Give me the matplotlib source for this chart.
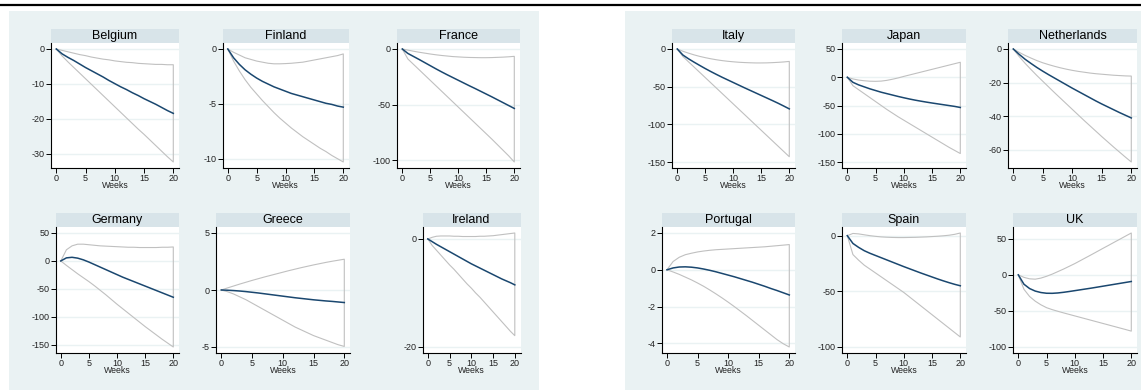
import matplotlib
matplotlib.use('Agg')
import matplotlib.pyplot as plt
from matplotlib.patches import Rectangle

#---DATA---
weeks = [0, 1, 2, 3, 4, 5, 6, 7, 8, 9, 10, 11, 12, 13, 14, 15, 16, 17, 18, 19, 20]

belgium_irf = [0, -1.4, -2.4, -3.3, -4.3, -5.3, -6.2, -7.1, -8.0, -9.0, -9.9, -10.8, -11.6, -12.5, -13.3, -14.2, -15.0, -15.8, -16.7, -17.6, -18.4]
belgium_upper = [0, -0.4, -0.8, -1.2, -1.6, -1.9, -2.3, -2.6, -2.9, -3.1, -3.4, -3.6, -3.8, -3.9, -4.1, -4.2, -4.3, -4.4, -4.4, -4.5, -4.5]
belgium_lower = [0, -2.0, -3.7, -5.3, -6.9, -8.5, -10.1, -11.7, -13.3, -14.9, -16.5, -18.1, -19.7, -21.3, -22.9, -24.4, -26.0, -27.6, -29.2, -30.8, -32.3]

finland_irf = [0, -0.8, -1.4, -1.9, -2.3, -2.65, -2.95, -3.2, -3.45, -3.65, -3.85, -4.05, -4.2, -4.35, -4.5, -4.65, -4.8, -4.95, -5.05, -5.2, -5.3]
finland_upper = [0, -0.3, -0.55, -0.8, -0.95, -1.1, -1.2, -1.3, -1.35, -1.35, -1.33, -1.3, -1.25, -1.2, -1.1, -1.0, -0.9, -0.8, -0.7, -0.6, -0.45]
finland_lower = [0, -1.1, -2.0, -2.8, -3.5, -4.1, -4.7, -5.25, -5.8, -6.3, -6.75, -7.2, -7.6, -8.0, -8.35, -8.7, -9.05, -9.35, -9.7, -10.0, -10.3]

france_irf = [0, -4, -6.7, -9.4, -12.2, -15, -17.8, -20.5, -23.1, -25.6, -28.1, -30.6, -33.1, -35.5, -38, -40.5, -43, -45.6, -48.2, -50.8, -53.4]
france_upper = [0, -1.0, -2.0, -2.9, -3.7, -4.5, -5.2, -5.8, -6.3, -6.8, -7.1, -7.4, -7.6, -7.7, -7.8, -7.8, -7.7, -7.5, -7.3, -7.0, -6.6]
france_lower = [0, -9, -13.8, -18.6, -23.4, -28.2, -33, -37.8, -42.6, -47.4, -52.2, -57, -61.8, -66.6, -71.4, -76.2, -81, -86, -91, -96, -101.5]

germany_irf = [0, 5.5, 6.5, 5, 2, -2, -6.5, -11, -15.5, -20, -24.5, -29, -33, -37, -41, -45, -49, -53, -57, -61, -65]
germany_upper = [0, 20, 27, 30, 30, 29, 28, 27, 26.5, 26, 25.5, 25, 24.5, 24.5, 24, 24, 24, 24, 24.5, 24.5, 25]
germany_lower = [0, -8, -15.5, -23, -30, -37, -44.5, -52.5, -60.5, -69, -77.5, -85.5, -93.5, -101.5, -109.5, -117.5, -125, -132.5, -140, -147, -154]

greece_irf = [0, -0.02, -0.05, -0.09, -0.14, -0.2, -0.26, -0.33, -0.4, -0.47, -0.54, -0.61, -0.68, -0.74, -0.8, -0.86, -0.91, -0.96, -1.0, -1.05, -1.1]
greece_upper = [0, 0.18, 0.35, 0.52, 0.68, 0.84, 0.99, 1.14, 1.28, 1.42, 1.56, 1.7, 1.83, 1.96, 2.08, 2.2, 2.31, 2.42, 2.52, 2.61, 2.7]
greece_lower = [0, -0.15, -0.35, -0.6, -0.85, -1.15, -1.45, -1.75, -2.05, -2.35, -2.65, -2.95, -3.25, -3.5, -3.75, -4.0, -4.2, -4.4, -4.6, -4.8, -4.95]

ireland_irf = [0, -0.5, -1.0, -1.45, -1.9, -2.35, -2.8, -3.25, -3.7, -4.15, -4.6, -5.0, -5.4, -5.8, -6.2, -6.6, -7.0, -7.4, -7.75, -8.1, -8.5]
ireland_upper = [0, 0.3, 0.5, 0.55, 0.55, 0.55, 0.5, 0.5, 0.45, 0.45, 0.45, 0.45, 0.5, 0.5, 0.55, 0.6, 0.7, 0.8, 0.9, 1.0, 1.1]
ireland_lower = [0, -1.2, -2.1, -3.0, -3.9, -4.8, -5.6, -6.5, -7.4, -8.3, -9.1, -10.0, -10.8, -11.7, -12.6, -13.5, -14.4, -15.3, -16.2, -17.1, -17.9]

italy_irf = [0, -8, -13, -17.5, -21.8, -26, -30, -33.8, -37.5, -41, -44.5, -48, -51.5, -54.9, -58.3, -61.7, -65.1, -68.5, -72, -75.7, -79.5]
italy_upper = [0, -3, -5.5, -7.8, -9.8, -11.5, -13, -14.3, -15.4, -16.3, -17, -17.6, -18, -18.3, -18.5, -18.5, -18.4, -18.1, -17.7, -17.2, -16.5]
italy_lower = [0, -10, -17, -24, -31, -38, -45, -52, -59, -66, -73, -80, -87, -94, -101, -108, -115, -122, -129, -136, -143]

japan_irf = [0, -9, -13.5, -17, -20.5, -23.5, -26.5, -29, -31.5, -34, -36.3, -38.5, -40.5, -42.3, -44, -45.6, -47.1, -48.6, -50.1, -51.6, -53.5]
japan_upper = [0, -3, -5, -6.2, -7, -7.2, -6.8, -5.5, -3.5, -1.2, 1.5, 4, 6.5, 9, 11.5, 14, 16.5, 19, 21.5, 24, 26.5]
japan_lower = [0, -15, -22, -29, -36, -43, -50, -57, -63.5, -70, -76, -82, -88, -94, -100, -106, -112, -118, -124, -129.5, -135]

netherlands_irf = [0, -3.2, -6.1, -8.6, -11, -13.2, -15.3, -17.3, -19.3, -21.3, -23.3, -25.2, -27.1, -29, -30.9, -32.7, -34.4, -36.1, -37.8, -39.4, -41]
netherlands_upper = [0, -2, -3.8, -5.4, -6.9, -8.2, -9.3, -10.3, -11.2, -12, -12.7, -13.3, -13.8, -14.3, -14.7, -15, -15.3, -15.6, -15.8, -16, -16.1]
netherlands_lower = [0, -4.5, -8.5, -12.2, -15.8, -19.2, -22.6, -26, -29.3, -32.6, -35.9, -39.2, -42.5, -45.7, -48.9, -52.1, -55.2, -58.3, -61.3, -64.3, -67.2]

portugal_irf = [0, 0.1, 0.15, 0.16, 0.14, 0.1, 0.04, -0.03, -0.11, -0.2, -0.29, -0.38, -0.48, -0.58, -0.68, -0.79, -0.9, -1.02, -1.13, -1.25, -1.37]
portugal_upper = [0, 0.45, 0.68, 0.82, 0.9, 0.97, 1.02, 1.06, 1.09, 1.11, 1.13, 1.15, 1.17, 1.19, 1.21, 1.23, 1.25, 1.28, 1.31, 1.34, 1.37]
portugal_lower = [0, -0.12, -0.25, -0.4, -0.55, -0.72, -0.9, -1.1, -1.31, -1.53, -1.76, -2.0, -2.25, -2.5, -2.76, -3.02, -3.28, -3.54, -3.8, -4.02, -4.2]

spain_irf = [0, -7, -10.5, -13.5, -15.8, -17.8, -19.8, -21.8, -23.8, -25.8, -27.8, -29.7, -31.6, -33.5, -35.3, -37.1, -38.9, -40.6, -42.2, -43.7, -45]
spain_upper = [0, 2, 1.6, 0.8, 0, -0.6, -1.1, -1.4, -1.6, -1.7, -1.7, -1.6, -1.5, -1.3, -1.1, -0.8, -0.5, -0.1, 0.4, 1.2, 2.4]
spain_lower = [0, -17, -22, -26.5, -30, -33.5, -37, -40.5, -44, -47.5, -51, -55, -59, -63, -67, -71, -75, -79, -83, -87, -91]

uk_irf = [0, -13, -19, -22.5, -24.5, -25.5, -25.6, -25.1, -24.2, -23.1, -21.9, -20.7, -19.5, -18.3, -17, -15.7, -14.4, -13.1, -11.8, -10.5, -9.2]
uk_upper = [0, -3.5, -5.5, -6, -4.5, -2, 1, 4.5, 8, 11.8, 15.6, 19.8, 24, 28.2, 32.5, 36.8, 41, 45.3, 49.5, 53.8, 58]
uk_lower = [0, -20, -30, -36.5, -41.5, -45.5, -48.2, -50.5, -52.7, -54.8, -56.9, -59, -61.1, -63.2, -65.3, -67.4, -69.5, -71.6, -73.7, -75.8, -78]

x_ticks = [0, 5, 10, 15, 20]
belgium_ticks = [0, -10, -20, -30]
finland_ticks = [0, -5, -10]
france_ticks = [0, -50, -100]
germany_ticks = [50, 0, -50, -100, -150]
greece_ticks = [5, 0, -5]
ireland_ticks = [0, -20]
italy_ticks = [0, -50, -100, -150]
japan_ticks = [50, 0, -50, -100, -150]
netherlands_ticks = [0, -20, -40, -60]
portugal_ticks = [2, 0, -2, -4]
spain_ticks = [0, -50, -100]
uk_ticks = [50, 0, -50, -100]

#---LAYOUT (pixels of 1141x390 image)---
W, H = 1141, 390
# name, irf, upper, lower, ticks, axis left px, axis right px, plot top px, x-axis px
panels = [
    ('Belgium', belgium_irf, belgium_upper, belgium_lower, belgium_ticks, 51, 179, 43, 168),
    ('Finland', finland_irf, finland_upper, finland_lower, finland_ticks, 222.5, 349, 43, 168),
    ('France', france_irf, france_upper, france_lower, france_ticks, 397, 520, 43, 168),
    ('Germany', germany_irf, germany_upper, germany_lower, germany_ticks, 55.5, 179, 227, 353),
    ('Greece', greece_irf, greece_upper, greece_lower, greece_ticks, 216, 350, 227, 353),
    ('Ireland', ireland_irf, ireland_upper, ireland_lower, ireland_ticks, 422.5, 520.5, 227, 353),
    ('Italy', italy_irf, italy_upper, italy_lower, italy_ticks, 672, 795, 43, 168),
    ('Japan', japan_irf, japan_upper, japan_lower, japan_ticks, 842, 966, 43, 168),
    ('Netherlands', netherlands_irf, netherlands_upper, netherlands_lower, netherlands_ticks, 1008, 1137, 43, 168),
    ('Portugal', portugal_irf, portugal_upper, portugal_lower, portugal_ticks, 661.7, 795, 227, 353),
    ('Spain', spain_irf, spain_upper, spain_lower, spain_ticks, 842, 966, 227, 353),
    ('UK', uk_irf, uk_upper, uk_lower, uk_ticks, 1013, 1137, 227, 353),
]
strip_h = 14

#colors (stata s2color-ish)
bg_color = '#EAF2F3'
strip_color = '#D8E4E9'
irf_color = '#1A476F'
ci_color = '#C0C0C0'
grid_color = '#EAF2F3'

plt.rcParams['font.family'] = ['Liberation Sans', 'DejaVu Sans']

fig = plt.figure(figsize=(W / 100, H / 100), dpi=100)
fig.patch.set_facecolor('white')

#panel backgrounds
for x0, x1 in [(9, 539), (625, 1141)]:
    fig.patches.append(Rectangle((x0 / W, 0), (x1 - x0) / W, 1 - 11 / H,
                                 transform=fig.transFigure, facecolor=bg_color,
                                 edgecolor='none', zorder=-2))
#top rule
fig.add_artist(plt.Line2D([0, 1], [1 - 5 / H, 1 - 5 / H], transform=fig.transFigure,
                          color='black', linewidth=1.6, zorder=5))

#---PLOT---
for name, irf, upper, lower, ticks, axl, axr, top, bot in panels:
    ax = fig.add_axes([axl / W, 1 - bot / H, (axr - axl) / W, (bot - top) / H])
    ax.set_zorder(2)
    ax.set_facecolor('white')

    #strip title
    fig.patches.append(Rectangle((axl / W, 1 - top / H), (axr - axl) / W, strip_h / H,
                                 transform=fig.transFigure, facecolor=strip_color,
                                 edgecolor='none', zorder=1))
    fig.text((axl + axr) / 2 / W, 1 - (top - strip_h / 2) / H, name, ha='center',
             va='center', fontsize=9, color='black', zorder=3)

    #ci outline (closed at week 20) and irf
    ax.plot(weeks + weeks[::-1], upper + lower[::-1], color=ci_color, linewidth=0.8, zorder=3)
    ax.plot(weeks, irf, color=irf_color, linewidth=1.1, zorder=4)

    #limits with stata-like margins
    w_px = axr - axl
    ppu = (w_px - 11) / 20
    ax.set_xlim(-5.3 / ppu, 20 + 5.7 / ppu)
    lo = min(min(lower), min(ticks))
    hi = max(max(upper), max(ticks))
    h_px = bot - top
    pad = 6 * (hi - lo) / (h_px - 12)
    ax.set_ylim(lo - pad, hi + pad)

    ax.set_xticks(x_ticks)
    ax.set_yticks(ticks)
    ax.set_yticklabels([str(t) for t in ticks])
    ax.tick_params(direction='out', length=3.5, width=0.7, labelsize=6.5, pad=1,
                   colors='black', labelcolor='#222222')
    ax.set_xlabel('Weeks', fontsize=6.3, labelpad=-1.5, color='#222222')

    ax.spines['top'].set_visible(False)
    ax.spines['right'].set_visible(False)
    ax.spines['left'].set_linewidth(0.8)
    ax.spines['bottom'].set_linewidth(0.8)
    ax.yaxis.grid(True, color=grid_color, linewidth=1.0, zorder=0)
    ax.set_axisbelow(True)

plt.savefig('out.png', dpi=100)
